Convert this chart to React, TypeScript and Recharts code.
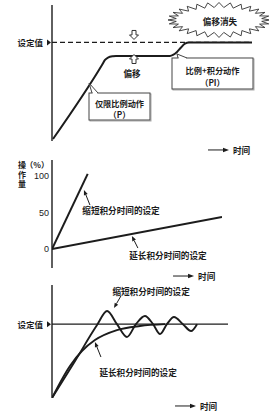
import React from 'react';
import { LineChart, Line, XAxis, YAxis, ReferenceLine, ReferenceDot } from 'recharts';

const CJK = "'Noto Sans CJK SC', 'Noto Sans', sans-serif";
const LAT = "'Liberation Sans', Arial, sans-serif";
const INK = '#1c1c1c';

// ---------- Panel 1: P vs PI control (offset) ----------
const p1Time = [0.5, 25, 26.5, 28, 30.5, 32, 59, 60.5, 62.5, 64.5, 66.5, 68.5, 100];
const p1Value = [2, 77.1, 82.2, 84.7, 86, 86.3, 86.3, 87.3, 90.3, 94.9, 98.9, 100, 100];
const p1Setpoint = 100;
const p1SetLabel = '设定值';
const p1Offset = '偏移';
const p1OffsetGone = '偏移消失';
const p1PLabel = ['仅限比例动作', '（P）'];
const p1PILabel = ['比例+积分动作', '（PI）'];

// ---------- Panel 2: manipulated variable ----------
const p2ShortTime = [0, 21];
const p2ShortValue = [0, 103];
const p2LongTime = [0, 100];
const p2LongValue = [0, 44];
const p2Ticks = [0, 50, 100];
const p2YLabel = ['操', '作', '量'];
const p2Unit = '（%）';

// ---------- Panel 3: response ----------
const p3ShortTime = [0, 13.1, 25.6, 31.3, 36.9, 42.6, 47.7, 52.8, 57.4, 61.4, 65.3, 69.3, 74.4, 79, 82.4];
const p3ShortValue = [0, 50, 98.8, 117.8, 100, 82.6, 100, 111, 100, 86.7, 100, 109.7, 100, 90.7, 100];
const p3LongTime = [0, 10.2, 17, 24.4, 36.9, 50, 64.2];
const p3LongValue = [0, 43.3, 63.6, 78.5, 92, 97.5, 100];
const p3Setpoint = 100;

const shortLabel = '缩短积分时间的设定';
const longLabel = '延长积分时间的设定';
const timeLabel = '时间';

const toRows = (t: number[], v: number[]) => t.map((x, i) => ({ t: x, v: v[i] }));

const cjkStyle: React.CSSProperties = { fontFamily: CJK, fontWeight: 700, fontSize: 8.6, fill: INK };

const textShape = (text: string, size = 8.6) => (p: any) => (
  <text x={p.cx} y={p.cy} textAnchor="middle" dominantBaseline="central" style={{ ...cjkStyle, fontSize: size }}>
    {text}
  </text>
);

const vTextShape = (chars: string[], step: number, size: number) => (p: any) => (
  <g>
    {chars.map((c, i) => (
      <text
        key={i}
        x={p.cx}
        y={p.cy + (i - (chars.length - 1) / 2) * step}
        textAnchor="middle"
        dominantBaseline="central"
        style={{ ...cjkStyle, fontSize: size }}
      >
        {c}
      </text>
    ))}
  </g>
);

const leaderShape = (dx: number, dy: number) => (p: any) => {
  const { cx, cy } = p;
  const len = Math.hypot(dx, dy);
  const ux = dx / len;
  const uy = dy / len;
  const hl = 5;
  const hw = 2;
  const bx = cx + ux * hl;
  const by = cy + uy * hl;
  const pts = `${cx},${cy} ${bx - uy * hw},${by + ux * hw} ${bx + uy * hw},${by - ux * hw}`;
  return (
    <g>
      <line x1={bx} y1={by} x2={cx + dx} y2={cy + dy} stroke={INK} strokeWidth={1} />
      <polygon points={pts} fill={INK} />
    </g>
  );
};

const timeArrowShape = (p: any) => {
  const { cx, cy } = p;
  return (
    <g>
      <line x1={cx} y1={cy} x2={cx + 16} y2={cy} stroke={INK} strokeWidth={1} />
      <polygon points={`${cx + 21},${cy} ${cx + 15},${cy - 2.2} ${cx + 15},${cy + 2.2}`} fill={INK} />
      <text x={cx + 25} y={cy} dominantBaseline="central" style={cjkStyle}>
        {timeLabel}
      </text>
    </g>
  );
};

const hollowArrow = (down: boolean) => (p: any) => {
  const { cx, cy } = p;
  const s = down ? 1 : -1;
  const pts = [
    [-2, -4.5],
    [2, -4.5],
    [2, 0],
    [4.5, 0],
    [0, 4.5],
    [-4.5, 0],
    [-2, 0],
  ]
    .map(([x, y]) => `${cx + x},${cy + s * y}`)
    .join(' ');
  return <polygon points={pts} fill="#fff" stroke="#333" strokeWidth={1} />;
};

const calloutShape = (
  w: number,
  h: number,
  apex: [number, number],
  base: [number, number],
  lines: string[],
  lineOffsets: number[]
) => (p: any) => {
  const { cx, cy } = p;
  const x0 = cx - w / 2;
  const y0 = cy - h / 2;
  return (
    <g>
      <rect x={x0 + 1} y={y0 + 1} width={w} height={h} fill="none" stroke="#aaa" strokeWidth={1} />
      <rect x={x0} y={y0} width={w} height={h} fill="#fff" stroke="#444" strokeWidth={1} />
      <line x1={x0 + base[0] + 0.6} y1={y0} x2={x0 + base[1] - 0.6} y2={y0} stroke="#fff" strokeWidth={2} />
      <polyline
        points={`${x0 + base[0]},${y0} ${cx + apex[0]},${cy + apex[1]} ${x0 + base[1]},${y0}`}
        fill="none"
        stroke="#444"
        strokeWidth={1}
      />
      {lines.map((l, i) => (
        <text
          key={i}
          x={cx}
          y={cy + lineOffsets[i]}
          textAnchor="middle"
          dominantBaseline="central"
          style={{ ...cjkStyle, fontSize: 8.2 }}
        >
          {l}
        </text>
      ))}
    </g>
  );
};

const burstShape = (p: any) => {
  const { cx, cy } = p;
  const n = 28;
  const pts: string[] = [];
  for (let i = 0; i < n * 2; i++) {
    const a = (Math.PI * i) / n;
    const outer = i % 2 === 0;
    const rx = outer ? 51 : 43;
    const ry = outer ? 17.5 : 12.5;
    pts.push(`${cx + rx * Math.cos(a)},${cy + ry * Math.sin(a)}`);
  }
  return (
    <g>
      <polygon points={pts.join(' ')} fill="#fff" stroke="#333" strokeWidth={0.9} />
      <text x={cx + 1} y={cy + 1} textAnchor="middle" dominantBaseline="central" style={cjkStyle}>
        {p1OffsetGone}
      </text>
    </g>
  );
};

const SetTick = (p: any) => {
  const { x, y } = p;
  return (
    <g>
      <text x={x - 9} y={y} textAnchor="end" dominantBaseline="central" style={{ ...cjkStyle, fontSize: 8.5 }}>
        {p1SetLabel}
      </text>
      <polygon points={`${x - 5},${y - 3} ${x - 1},${y} ${x - 5},${y + 3}`} fill={INK} />
    </g>
  );
};

const NumTick = (p: any) => {
  const { x, y, payload } = p;
  return (
    <text x={x - 3} y={y} textAnchor="end" dominantBaseline="central" style={{ fontFamily: LAT, fontSize: 9, fill: INK }}>
      {payload.value}
    </text>
  );
};

const axisLine = { stroke: INK, strokeWidth: 1.4 };

export default function App() {
  const p1Rows = toRows(p1Time, p1Value);
  return (
    <div style={{ position: 'absolute', left: 0, top: 0, width: 269, height: 416, background: '#fff' }}>
      {/* Panel 1 */}
      <div style={{ position: 'absolute', left: 0, top: 0 }}>
        <LineChart width={269} height={160} margin={{ top: 5, right: 17, bottom: 19, left: 0 }}>
          <XAxis type="number" dataKey="t" domain={[0, 100]} allowDataOverflow tick={false} tickLine={false} height={0} axisLine={axisLine} />
          <YAxis
            type="number"
            domain={[0, 138]}
            allowDataOverflow
            width={52}
            ticks={[p1Setpoint]}
            tick={SetTick}
            tickLine={false}
            tickSize={0}
            tickMargin={0}
            axisLine={axisLine}
          />
          <ReferenceLine y={p1Setpoint} stroke={INK} strokeWidth={1.2} strokeDasharray="5 3" />
          <Line data={p1Rows} dataKey="v" type="monotone" stroke={INK} strokeWidth={2} dot={false} activeDot={false} isAnimationActive={false} />
          <ReferenceDot x={83.5} y={122.8} ifOverflow="visible" shape={burstShape} />
          <ReferenceDot x={41} y={107.6} ifOverflow="visible" shape={hollowArrow(true)} />
          <ReferenceDot x={41} y={83.2} ifOverflow="visible" shape={hollowArrow(false)} />
          <ReferenceDot x={40} y={69} ifOverflow="visible" shape={textShape(p1Offset)} />
          <ReferenceDot
            x={33.75}
            y={35}
            ifOverflow="visible"
            shape={calloutShape(61, 27, [-30.5, -23.5], [3, 9], p1PLabel, [-4, 7])}
          />
          <ReferenceDot
            x={80.25}
            y={68.5}
            ifOverflow="visible"
            shape={calloutShape(81, 31, [-35.5, -19.5], [6, 15], p1PILabel, [-3, 8.5])}
          />
          <ReferenceDot x={78} y={-9.1} ifOverflow="visible" shape={timeArrowShape} />
        </LineChart>
      </div>

      {/* Panel 2 */}
      <div style={{ position: 'absolute', left: 0, top: 150 }}>
        <LineChart width={269} height={136} margin={{ top: 10, right: 47, bottom: 18, left: 0 }}>
          <XAxis type="number" dataKey="t" domain={[0, 100]} allowDataOverflow tick={false} tickLine={false} height={0} axisLine={axisLine} />
          <YAxis
            type="number"
            domain={[-26, 122]}
            allowDataOverflow
            width={52}
            ticks={p2Ticks}
            tick={NumTick}
            tickLine={false}
            tickSize={0}
            tickMargin={0}
            axisLine={axisLine}
          />
          <Line data={toRows(p2ShortTime, p2ShortValue)} dataKey="v" type="linear" stroke={INK} strokeWidth={2} dot={false} activeDot={false} isAnimationActive={false} />
          <Line data={toRows(p2LongTime, p2LongValue)} dataKey="v" type="linear" stroke={INK} strokeWidth={2} dot={false} activeDot={false} isAnimationActive={false} />
          <ReferenceDot x={-17.6} y={102.7} ifOverflow="visible" shape={vTextShape(p2YLabel, 9.6, 8)} />
          <ReferenceDot x={-8.8} y={116.4} ifOverflow="visible" shape={textShape(p2Unit, 8)} />
          <ReferenceDot x={18.8} y={80.8} ifOverflow="visible" shape={leaderShape(6, 15)} />
          <ReferenceDot x={40.6} y={53.4} ifOverflow="visible" shape={textShape(shortLabel)} />
          <ReferenceDot x={47} y={17.8} ifOverflow="visible" shape={leaderShape(6, 12)} />
          <ReferenceDot x={68.2} y={-8.2} ifOverflow="visible" shape={textShape(longLabel)} />
          <ReferenceDot x={71.2} y={-37} ifOverflow="visible" shape={timeArrowShape} />
        </LineChart>
      </div>

      {/* Panel 3 */}
      <div style={{ position: 'absolute', left: 0, top: 280 }}>
        <LineChart width={269} height={136} margin={{ top: 5, right: 41, bottom: 18, left: 0 }}>
          <XAxis type="number" dataKey="t" domain={[0, 100]} allowDataOverflow tick={false} tickLine={false} height={0} axisLine={axisLine} />
          <YAxis
            type="number"
            domain={[0, 153]}
            allowDataOverflow
            width={52}
            ticks={[p3Setpoint]}
            tick={SetTick}
            tickLine={false}
            tickSize={0}
            tickMargin={0}
            axisLine={axisLine}
          />
          <ReferenceLine y={p3Setpoint} stroke={INK} strokeWidth={1.2} />
          <Line data={toRows(p3LongTime, p3LongValue)} dataKey="v" type="monotone" stroke={INK} strokeWidth={1.9} dot={false} activeDot={false} isAnimationActive={false} />
          <Line data={toRows(p3ShortTime, p3ShortValue)} dataKey="v" type="monotone" stroke={INK} strokeWidth={1.9} dot={false} activeDot={false} isAnimationActive={false} />
          <ReferenceDot x={35.2} y={121.9} ifOverflow="visible" shape={leaderShape(7, -12)} />
          <ReferenceDot x={56.3} y={145.5} ifOverflow="visible" shape={textShape(shortLabel)} />
          <ReferenceDot x={24.4} y={75.8} ifOverflow="visible" shape={leaderShape(6, 15)} />
          <ReferenceDot x={48.9} y={35.2} ifOverflow="visible" shape={textShape(longLabel)} />
          <ReferenceDot x={69.9} y={-10.8} ifOverflow="visible" shape={timeArrowShape} />
        </LineChart>
      </div>
    </div>
  );
}
